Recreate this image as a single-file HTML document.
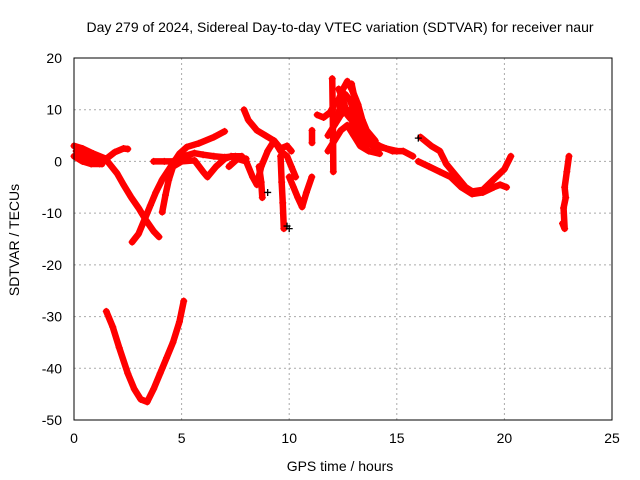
<!DOCTYPE html>
<html><head><meta charset="utf-8"><style>
body{margin:0;background:#fff}
svg{display:block;font-family:"Liberation Sans",sans-serif}
</style></head><body>
<svg id="chart" width="640" height="480">
<text x="340" y="32" font-size="14" text-anchor="middle">Day 279 of 2024, Sidereal Day-to-day VTEC variation (SDTVAR) for receiver naur</text>
<text x="340" y="471" font-size="14" text-anchor="middle">GPS time / hours</text>
<text transform="translate(19,240) rotate(-90)" font-size="14" text-anchor="middle">SDTVAR / TECUs</text>
<g id="grid"></g><g id="ticks"></g><g id="marks"></g>
<rect x="74" y="58" width="538" height="362" fill="none" stroke="#000"/>
</svg>
<script>
const xTicks=[0,5,10,15,20,25];
const yTicks=[-50,-40,-30,-20,-10,0,10,20];
const tracks=[
[[1.5,-29],[1.8,-32],[2.1,-36],[2.5,-41],[2.8,-44],[3.1,-46],[3.4,-46.5],[3.7,-44],[4,-41],[4.3,-38],[4.6,-35],[4.9,-31],[5.1,-27]],
[[0,3],[0.4,2.5],[0.9,1.5],[1.5,0.5],[1.9,1.8],[2.3,2.5],[2.5,2.4]],
[[0,1],[0.4,0],[0.8,-0.5],[1.2,-0.5],[1.5,0.3],[2,-2.3],[2.3,-4.5],[2.65,-6.9],[3,-9],[3.35,-11.4],[3.7,-13.5],[3.95,-14.6]],
[[2.7,-15.6],[3,-14],[3.3,-11],[3.55,-8.5],[3.8,-6],[4.1,-3.5],[4.5,-1],[4.9,1.5],[5.25,2.8],[5.8,3.5],[6.5,4.7],[7,5.8]],
[[4.1,-9.8],[4.25,-6.5],[4.4,-3.6],[4.6,-1],[5,0],[5.6,0.2],[6,-2],[6.2,-3],[6.6,-1],[7,0.5],[7.3,1],[7.8,1]],
[[3.7,0],[4.2,0],[4.6,0],[5.1,1],[5.6,1.6],[6,1.3],[6.5,1],[7,0.8],[7.5,1],[8,0.5]],
[[0.1,2],[0.5,1],[0.9,0.5],[1.3,-0.5]],
[[7.2,-1],[7.6,0.5],[8,0],[8.3,-3],[8.5,-4.5],[8.7,-1],[9,2],[9.3,4],[9.6,2],[9.9,1],[10.1,-1],[10.3,-3]],
[[7.9,10],[8.1,8],[8.5,6],[8.9,5],[9.3,4],[9.6,2.5],[9.9,3],[10.1,2]],
[[8.6,-1],[8.7,-4],[8.75,-7]],
[[9.6,1],[9.65,-4],[9.7,-8],[9.75,-13]],
[[10,-3],[10.2,-5],[10.4,-7],[10.6,-8.8],[10.8,-6],[11.05,-3]],
[[11.06,6],[11.06,3.6]],
[[11.3,9],[11.6,8.5],[11.9,9.5],[12.1,11],[12.3,12],[12.5,14],[12.7,15.5],[12.9,14],[13.1,12],[13.3,8],[13.5,5],[13.8,4],[14.2,3],[14.8,2],[15.3,2],[15.75,1]],
[[11.8,5],[12.1,7],[12.4,9],[12.7,10],[13,9],[13.3,6],[13.6,3]],
[[11.8,2],[12.1,4],[12.4,6],[12.7,7],[13,5],[13.3,3],[13.7,2],[14.2,1.5]],
[[12.2,8],[12.4,11],[12.6,13],[12.8,12],[13,10],[13.2,7],[13.4,5],[13.7,4]],
[[12.3,14],[12.5,12],[12.7,9],[12.9,8],[13.1,6],[13.4,4],[13.9,3],[14.5,2.5],[15,2]],
[[12.9,15],[13,13],[13.2,11],[13.4,8],[13.6,6],[14,4]],
[[12,16],[12.02,10],[12.04,4],[12.05,-2]],
[[16.1,4.7],[16.6,3],[17,2],[17.3,-0.5],[17.8,-3],[18.2,-5],[18.5,-5.8],[19,-5.5],[19.5,-3.5],[20,-1.5],[20.3,1]],
[[16,0],[16.5,-1],[17,-2],[17.5,-3],[18,-5],[18.5,-6.3],[19,-6],[19.5,-5],[19.8,-4.5],[20.1,-5]],
[[22.7,-12],[22.8,-13],[22.75,-9],[22.85,-7],[22.8,-5],[22.9,-2],[23,1]]
];
const blackPts=[[9.9,-12.5],[10,-13],[9,-6],[16,4.5]];
const X=v=>74+v*538/25, Y=v=>58+(20-v)*362/70;
const ns="http://www.w3.org/2000/svg";
const grid=document.getElementById('grid'),tk=document.getElementById('ticks'),mk=document.getElementById('marks');
function el(p,t,a){const e=document.createElementNS(ns,t);for(const k in a)e.setAttribute(k,a[k]);p.appendChild(e);return e;}
xTicks.forEach(v=>{
 const g=el(grid,'line',{x1:X(v),x2:X(v),y1:58,y2:420,stroke:'#aaa','stroke-dasharray':'2,3'});
 
 
 const t=el(tk,'text',{x:X(v),y:443,'font-size':14,'text-anchor':'middle'});t.textContent=v;
 
 
});
yTicks.forEach(v=>{
 const g=el(grid,'line',{x1:74,x2:612,y1:Y(v),y2:Y(v),stroke:'#aaa','stroke-dasharray':'2,3'});
 
 
 const t=el(tk,'text',{x:62,y:Y(v)+5,'font-size':14,'text-anchor':'end'});t.textContent=v;
 
 
});
function plus(x,y,c){
 const p=el(mk,'path',{d:`M${X(x)-3.5},${Y(y)}h7M${X(x)},${Y(y)-3.5}v7`,stroke:c,'stroke-width':1.3});
 
 
}
tracks.forEach(tr=>{
 const pl=el(mk,'polyline',{points:tr.map(p=>X(p[0])+','+Y(p[1])).join(' '),fill:'none',stroke:'#f00','stroke-width':6.5,'stroke-linejoin':'round','stroke-linecap':'round'});
 
 
 tr.forEach(p=>plus(p[0],p[1],'#f00'));
});
blackPts.forEach(p=>plus(p[0],p[1],'#000'));
</script>
</body></html>
